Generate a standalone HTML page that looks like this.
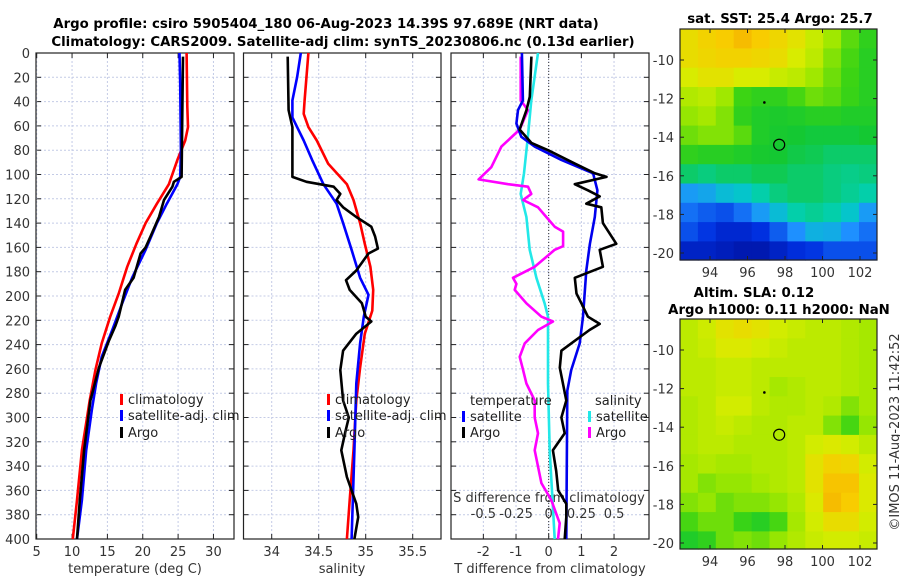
<!DOCTYPE html>
<html><head><meta charset="utf-8"><style>
html,body{margin:0;padding:0;background:#fff;}
svg{display:block;font-family:"DejaVu Sans","Liberation Sans",sans-serif;}
.tk{font-size:13px;fill:#333;}
.tt{font-size:13.3px;font-weight:bold;fill:#000;}
.lg{font-size:13px;fill:#222;}
</style></head><body>
<svg id="fig" width="900" height="580" viewBox="0 0 900 580"></svg>
<script>
// ---------- data ----------
const tClimDepth=[0,44,61,72,88,108,124,140,157,176,198,217,239,261,286,327,368,400];
const tClimVal=[26.2,26.3,26.4,26.0,24.9,23.7,22.0,20.4,19.1,17.8,16.6,15.4,14.2,13.3,12.5,11.4,10.7,10.1];
const tSatDepth=[0,25,80,102,108,124,140,162,185,206,228,250,272,294,327,368,400];
const tSatVal=[25.2,25.3,25.4,25.3,24.9,23.4,22.0,20.4,18.5,17.1,15.7,14.2,13.4,12.8,12.0,11.4,10.7];
const tArgoDepth=[3,50,102,106,110,121,135,151,160,165,185,195,217,225,237,259,286,327,368,400];
const tArgoVal=[25.7,25.6,25.5,24.4,24.2,23.0,22.3,21.1,20.4,19.7,18.7,17.5,16.6,16.1,15.2,13.8,12.6,11.7,11.1,10.7];

const sClimDepth=[0,39,50,61,72,91,108,121,140,157,176,195,212,231,259,286,327,368,400];
const sClimVal=[34.39,34.35,34.34,34.39,34.48,34.60,34.80,34.87,34.94,34.99,35.05,35.08,35.07,34.99,34.94,34.90,34.87,34.83,34.80];
const sSatDepth=[0,20,39,53,61,72,88,108,124,140,162,185,199,217,239,272,327,400];
const sSatVal=[34.31,34.27,34.22,34.22,34.27,34.34,34.43,34.55,34.69,34.76,34.85,34.94,35.03,34.98,34.94,34.90,34.88,34.85];
const sArgoDepth=[3,47,61,102,106,110,116,121,127,135,143,151,161,165,179,187,195,206,217,221,231,245,261,286,300,313,327,349,371,382,400];
const sArgoVal=[34.17,34.18,34.22,34.22,34.37,34.66,34.73,34.69,34.76,34.90,35.06,35.10,35.13,35.03,34.90,34.79,34.83,34.96,35.00,35.06,34.90,34.76,34.73,34.76,34.82,34.78,34.74,34.80,34.90,34.92,34.88];

const dTSatDepth=[0,39,47,58,69,77,88,99,113,135,157,179,217,239,261,278,400];
const dTSatVal=[-0.82,-0.79,-0.94,-0.99,-0.84,-0.43,0.39,1.36,1.49,1.41,1.26,1.15,1.05,0.95,0.69,0.57,0.54];
const dTArgoDepth=[3,36,47,63,74,80,91,99,102,108,113,118,124,127,140,157,162,176,185,198,206,217,223,228,239,245,259,286,300,313,327,344,360,371,382,400];
const dTArgoVal=[-0.53,-0.58,-0.68,-0.89,-0.53,-0.02,0.80,1.41,1.77,0.80,1.20,1.56,1.15,1.61,1.66,2.07,1.56,1.66,0.80,0.85,1.00,1.20,1.56,1.25,0.69,0.39,0.34,0.54,0.39,0.49,0.13,0.23,0.29,0.54,0.54,0.49];
const dSSatDepth=[0,39,68,99,116,135,162,185,206,217,239,272,327,400];
const dSSatVal=[-0.082,-0.133,-0.158,-0.189,-0.214,-0.171,-0.145,-0.094,-0.031,-0.005,-0.005,-0.005,0.008,0.046];
const dSArgoDepth=[3,39,47,63,77,94,104,108,110,116,121,127,135,143,147,159,162,176,185,190,195,206,217,221,228,239,250,261,272,286,300,313,327,354,368,387,400];
const dSArgoVal=[-0.214,-0.214,-0.158,-0.222,-0.362,-0.439,-0.536,-0.311,-0.158,-0.133,-0.196,-0.082,-0.018,0.046,0.110,0.110,0.046,-0.107,-0.273,-0.247,-0.260,-0.171,-0.056,0.033,-0.082,-0.184,-0.222,-0.196,-0.171,-0.107,-0.107,-0.082,-0.107,-0.056,0.020,0.084,0.071];

const depthTicks=[0,20,40,60,80,100,120,140,160,180,200,220,240,260,280,300,320,340,360,380,400];
const tTicks=[5,10,15,20,25,30];
const sTicks=[34,34.5,35,35.5];
const dTTicks=[-2,-1,0,1,2];
const dSTickLabels=["-0.5","-0.25","0","0.25","0.5"];
const dSTicks=[-0.5,-0.25,0,0.25,0.5];
const lonTicks=[94,96,98,100,102];
const latTicks=[-10,-12,-14,-16,-18,-20];

const sstGrid=[
[0.9,0.93,0.95,0.97,0.95,0.92,0.88,0.82,0.75,0.68,0.62],
[0.9,0.92,0.93,0.93,0.92,0.9,0.85,0.8,0.72,0.66,0.6],
[0.85,0.88,0.88,0.85,0.85,0.82,0.8,0.75,0.7,0.65,0.6],
[0.78,0.8,0.75,0.65,0.62,0.62,0.66,0.7,0.68,0.64,0.6],
[0.74,0.76,0.72,0.62,0.58,0.57,0.58,0.6,0.6,0.58,0.58],
[0.7,0.72,0.72,0.68,0.58,0.56,0.55,0.54,0.54,0.54,0.55],
[0.62,0.6,0.6,0.58,0.56,0.55,0.53,0.52,0.5,0.5,0.5],
[0.5,0.48,0.5,0.5,0.52,0.52,0.5,0.5,0.48,0.47,0.48],
[0.32,0.34,0.38,0.4,0.44,0.48,0.5,0.5,0.48,0.46,0.44],
[0.25,0.22,0.2,0.25,0.32,0.38,0.44,0.46,0.44,0.4,0.32],
[0.2,0.16,0.12,0.12,0.15,0.22,0.3,0.36,0.35,0.3,0.25],
[0.1,0.1,0.08,0.06,0.06,0.1,0.14,0.16,0.2,0.2,0.2]];
const slaGrid=[
[0.8,0.83,0.88,0.9,0.88,0.84,0.82,0.8,0.8,0.78,0.76],
[0.8,0.82,0.86,0.86,0.84,0.82,0.8,0.8,0.8,0.78,0.76],
[0.8,0.8,0.82,0.82,0.8,0.8,0.8,0.8,0.8,0.78,0.76],
[0.8,0.8,0.82,0.82,0.8,0.76,0.78,0.8,0.8,0.78,0.76],
[0.78,0.8,0.84,0.84,0.8,0.78,0.78,0.8,0.78,0.72,0.76],
[0.78,0.8,0.82,0.8,0.78,0.78,0.8,0.8,0.72,0.66,0.74],
[0.78,0.8,0.8,0.78,0.78,0.78,0.8,0.84,0.86,0.84,0.8],
[0.76,0.78,0.76,0.76,0.78,0.78,0.8,0.88,0.93,0.92,0.84],
[0.76,0.72,0.74,0.74,0.76,0.78,0.8,0.88,0.96,0.96,0.86],
[0.72,0.74,0.7,0.72,0.72,0.74,0.78,0.86,0.97,0.95,0.86],
[0.66,0.7,0.7,0.64,0.6,0.66,0.76,0.84,0.9,0.9,0.84],
[0.58,0.62,0.7,0.72,0.7,0.74,0.78,0.82,0.84,0.84,0.82]];
const argoLon=97.69, argoLat=-14.39;
const dotLon=96.9, dotLat=-12.2;

// ---------- helpers ----------
const NS="http://www.w3.org/2000/svg";
const svg=document.getElementById('fig');
function mk(tag,attrs,parent){const e=document.createElementNS(NS,tag);for(const k in attrs)e.setAttribute(k,attrs[k]);(parent||svg).appendChild(e);return e;}
function txt(x,y,s,cls,anchor,parent){const e=mk('text',{x:x,y:y,class:cls,'text-anchor':anchor||'middle'},parent);e.textContent=s;return e;}

const Y0=53,Y1=539;
const yD=d=>Y0+d*(Y1-Y0)/400;
const panels=[
 {x0:36,x1:234,sx:v=>36.7+(v-5)*7.07},
 {x0:243.5,x1:441,sx:v=>271.7+(v-34)*94},
 {x0:451,x1:649,sx:v=>548.7+v*32.67}
];
const sxS=v=>548.7+v*130.7;

let t=txt(326,28,"Argo profile: csiro 5905404_180 06-Aug-2023 14.39S 97.689E (NRT data)","tt");

t=txt(343,46,"Climatology: CARS2009. Satellite-adj clim: synTS_20230806.nc (0.13d earlier)","tt");


const xTicksAll=[tTicks,sTicks,dTTicks];
const names=['temperature-panel','salinity-panel','difference-panel'];
panels.forEach((p,i)=>{
  const g=mk('g',{});
  
  
  depthTicks.forEach(d=>{
    const l=mk('line',{x1:p.x0,x2:p.x1,y1:yD(d),y2:yD(d),stroke:'#c4cbe6','stroke-width':1,'stroke-dasharray':'2,2'},g);
    
    mk('line',{x1:p.x0,x2:p.x0+5,y1:yD(d),y2:yD(d),stroke:'#222'},g);
    mk('line',{x1:p.x1-5,x2:p.x1,y1:yD(d),y2:yD(d),stroke:'#222'},g);
  });
  xTicksAll[i].forEach(v=>{
    const x=p.sx(v);
    const l=mk('line',{x1:x,x2:x,y1:Y0,y2:Y1,stroke:'#c4cbe6','stroke-width':1,'stroke-dasharray':'2,2'},g);
    
    mk('line',{x1:x,x2:x,y1:Y1-5,y2:Y1,stroke:'#222'},g);
    mk('line',{x1:x,x2:x,y1:Y0,y2:Y0+5,stroke:'#222'},g);
    const lb=txt(x,556,String(v),'tk','middle',g);
    
  });
  const r=mk('rect',{x:p.x0,y:Y0,width:p.x1-p.x0,height:Y1-Y0,fill:'none',stroke:'#222','stroke-width':1.2},g);
  
});
depthTicks.forEach(d=>{
  const lb=txt(30,yD(d)+5,String(d),'tk','end');
  
});
[["temperature (deg C)",135],["salinity",342],["T difference from climatology",550]].forEach(a=>{
  const lb=txt(a[1],573,a[0],'tk');
  
});
let z=mk('line',{x1:panels[2].sx(0),x2:panels[2].sx(0),y1:Y0,y2:Y1,stroke:'#333','stroke-width':1,'stroke-dasharray':'1,2'});

dSTicks.forEach((v,i)=>{
  const lb=txt(sxS(v),518,dSTickLabels[i],'tk');
  
});
t=txt(549,502,"S difference from climatology",'tk');


function series(depths,vals,sx,color,name){
  const pts=depths.map((d,i)=>sx(vals[i]).toFixed(1)+','+yD(d).toFixed(1)).join(' ');
  const pl=mk('polyline',{points:pts,fill:'none',stroke:color,'stroke-width':2.6,'stroke-linejoin':'round'});
  
  
}
series(tClimDepth,tClimVal,panels[0].sx,'#ff0000','temp-climatology-line');
series(tSatDepth,tSatVal,panels[0].sx,'#0000ff','temp-satellite-line');
series(tArgoDepth,tArgoVal,panels[0].sx,'#000000','temp-argo-line');
series(sClimDepth,sClimVal,panels[1].sx,'#ff0000','sal-climatology-line');
series(sSatDepth,sSatVal,panels[1].sx,'#0000ff','sal-satellite-line');
series(sArgoDepth,sArgoVal,panels[1].sx,'#000000','sal-argo-line');
series(dSSatDepth,dSSatVal,sxS,'#22e8e8','dsal-satellite-line');
series(dSArgoDepth,dSArgoVal,sxS,'#ff00ff','dsal-argo-line');
series(dTSatDepth,dTSatVal,panels[2].sx,'#0000ee','dtemp-satellite-line');
series(dTArgoDepth,dTArgoVal,panels[2].sx,'#000000','dtemp-argo-line');

function legendEntry(x,y,color,label){
  const g=mk('g',{});
  
  
  if(color) mk('rect',{x:x,y:y-10,width:3,height:11,fill:color},g);
  txt(x+(color?8:0),y,label,'lg','start',g);
}
[[120,'#ff0000','climatology',404],[120,'#0000ff','satellite-adj. clim',420],[120,'#000','Argo',437]].forEach(a=>legendEntry(a[0],a[3],a[1],a[2]));
[[327,'#ff0000','climatology',404],[327,'#0000ff','satellite-adj. clim',420],[327,'#000','Argo',437]].forEach(a=>legendEntry(a[0],a[3],a[1],a[2]));
legendEntry(470,405,null,'temperature');
legendEntry(462,421,'#0000ff','satellite');
legendEntry(462,437,'#000','Argo');
legendEntry(595,405,null,'salinity');
legendEntry(588,421,'#22e8e8','satellite');
legendEntry(588,437,'#ff00ff','Argo');

const cstops=[[0,[0,10,144]],[0.15,[0,48,224]],[0.3,[30,144,255]],[0.42,[0,208,192]],[0.55,[20,200,50]],[0.65,[60,212,20]],[0.75,[160,232,0]],[0.85,[216,236,0]],[0.95,[248,204,0]],[1,[244,164,0]]];
function cmap(v){
  for(let i=1;i<cstops.length;i++){if(v<=cstops[i][0]){const a=cstops[i-1],b=cstops[i];const f=(v-a[0])/(b[0]-a[0]);const c=a[1].map((q,k)=>Math.round(q+(b[1][k]-q)*f));return 'rgb('+c.join(',')+')';}}
  return 'rgb(244,164,0)';
}
const MX0=680,MX1=877;
const lonX=lon=>710+(lon-94)*18.75;
function drawMap(grid,top,bottom,latY0,name){
  const g=mk('g',{});
  
  
  const latY=lat=>latY0+(-10-lat)*19.3;
  const lonA=92.4,lonB=102.9,nc=grid[0].length,dl=(lonB-lonA)/nc;
  grid.forEach((row,r)=>{
    const latTop=-8.4-r*(12/grid.length), latBot=latTop-12/grid.length;
    row.forEach((v,c)=>{
      const x0=lonX(lonA+c*dl),x1=lonX(lonA+(c+1)*dl);
      const ya=Math.max(top,latY(latTop)),yb=Math.min(bottom,latY(latBot));
      const cell=mk('rect',{x:x0.toFixed(1),y:ya.toFixed(1),width:(x1-x0+0.6).toFixed(1),height:(yb-ya+0.6).toFixed(1),fill:cmap(v)},g);
      
      
    });
  });
  mk('rect',{x:MX0,y:top,width:MX1-MX0,height:bottom-top,fill:'none',stroke:'#222','stroke-width':1.2},g);
  lonTicks.forEach(l=>{
    const x=lonX(l);
    mk('line',{x1:x,x2:x,y1:bottom-4,y2:bottom,stroke:'#222'},g);
    mk('line',{x1:x,x2:x,y1:top,y2:top+4,stroke:'#222'},g);
    const lb=txt(x,bottom+17,String(l),'tk','middle',g);
    
  });
  latTicks.forEach(l=>{
    const y=latY(l);
    mk('line',{x1:MX0,x2:MX0+4,y1:y,y2:y,stroke:'#222'},g);
    mk('line',{x1:MX1-4,x2:MX1,y1:y,y2:y,stroke:'#222'},g);
    const lb=txt(674,y+5,String(l),'tk','end',g);
    
  });
  const c=mk('circle',{cx:lonX(argoLon),cy:latY(argoLat),r:5.5,fill:'none',stroke:'#000','stroke-width':1.2},g);
  
  mk('circle',{cx:lonX(dotLon),cy:latY(dotLat),r:1.3,fill:'#000'},g);
}
drawMap(sstGrid,29,260,60,'sst-map');
drawMap(slaGrid,319,549,350,'sla-map');
t=txt(780,23,"sat. SST: 25.4 Argo: 25.7","tt");

t=txt(754,297,"Altim. SLA: 0.12","tt");

t=txt(779,314,"Argo h1000: 0.11 h2000: NaN","tt");

t=txt(0,0,"©IMOS 11-Aug-2023 11:42:52","tk");
t.setAttribute('transform','translate(899,432) rotate(-90)');

</script>
</body></html>
